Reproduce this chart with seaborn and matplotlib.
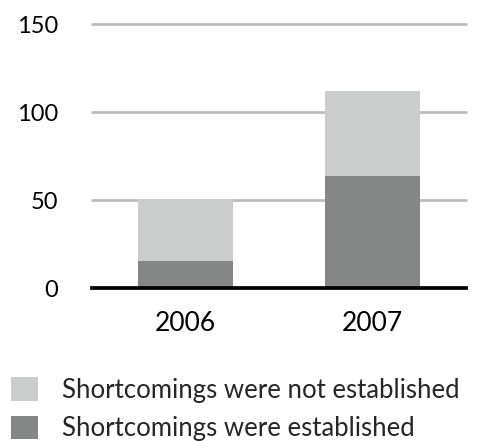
import matplotlib
matplotlib.use("Agg")
import matplotlib.pyplot as plt
import seaborn as sns
import pandas as pd
from matplotlib.patches import Patch

years = ["2006", "2007"]
established = [15.5, 64]
not_established = [35, 48]
series_labels = ["Shortcomings were not established", "Shortcomings were established"]
y_ticks = [0, 50, 100, 150]

light = "#cbcdcc"
dark = "#858786"

sns.set_theme(style="white")
plt.rcParams["font.family"] = ["Lato", "DejaVu Sans"]

df = pd.DataFrame({
    "year": years,
    "established": established,
    "total": [a + b for a, b in zip(established, not_established)],
})

fig = plt.figure(figsize=(4.93, 4.41), dpi=100)
ax = fig.add_axes([0.1866, 0.3463, 0.7584, 0.5987])

sns.barplot(data=df, x="year", y="total", color=light, width=0.51,
            saturation=1, linewidth=0, ax=ax, zorder=2)
sns.barplot(data=df, x="year", y="established", color=dark, width=0.51,
            saturation=1, linewidth=0, ax=ax, zorder=3)

ax.set_xlim(-0.5, 1.5)
ax.set_ylim(0, 150)
ax.set_yticks(y_ticks)
ax.set_xlabel("")
ax.set_ylabel("")
for y in y_ticks[1:]:
    ax.axhline(y, color="#bdbdbd", lw=2, zorder=1, clip_on=False)
for s in ["top", "right", "left"]:
    ax.spines[s].set_visible(False)
ax.spines["bottom"].set_color("black")
ax.spines["bottom"].set_linewidth(2.7)
ax.spines["bottom"].set_zorder(4)
ax.tick_params(axis="y", length=0, pad=24.5, labelsize=17, labelcolor="black")
ax.tick_params(axis="x", length=0, pad=16, labelsize=19, labelcolor="black")

handles = [Patch(facecolor=light, edgecolor="none"), Patch(facecolor=dark, edgecolor="none")]
fig.legend(handles, series_labels, loc="upper left", bbox_to_anchor=(0.022, 0.145),
           frameon=False, fontsize=18.5, handlelength=1.05, handleheight=1.05,
           handletextpad=0.93, labelspacing=0.5, borderpad=0, borderaxespad=0)

fig.savefig("out.png", dpi=100)
